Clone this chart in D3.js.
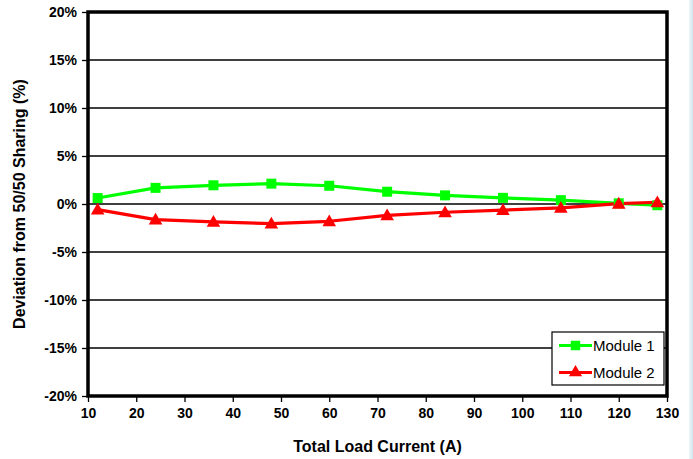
<!DOCTYPE html>
<html>
<head>
<script src="https://cdn.jsdelivr.net/npm/d3@7"></script>
<style>
body { margin: 0; background: #fff; }
text { font-family: "Liberation Sans", Arial, sans-serif; }
</style>
</head>
<body>
<div id="chart"></div>
<script>
// data
var loadCurrent = [12, 24, 36, 48, 60, 72, 84, 96, 108, 120, 128];
var module1 = [0.62, 1.68, 1.95, 2.12, 1.9, 1.28, 0.9, 0.64, 0.4, 0.07, -0.13];
var module2 = [-0.58, -1.62, -1.86, -2.04, -1.8, -1.18, -0.86, -0.64, -0.4, 0.03, 0.18];
var xTicks = [10, 20, 30, 40, 50, 60, 70, 80, 90, 100, 110, 120, 130];
var yTicks = [-20, -15, -10, -5, 0, 5, 10, 15, 20];
var seriesNames = ["Module 1", "Module 2"];

var W = 693, H = 459;
var margin = {top: 12, right: 26, bottom: 63, left: 88};
var width = W - margin.left - margin.right,
    height = H - margin.top - margin.bottom;

var svg = d3.select("#chart").append("svg")
  .attr("width", W).attr("height", H);

// faint strip at the right edge of the slide
var grad = svg.append("defs").append("linearGradient").attr("id", "edge");
grad.append("stop").attr("offset", "0%").attr("stop-color", "#eef7fa");
grad.append("stop").attr("offset", "100%").attr("stop-color", "#cfe6ee");
svg.append("rect").attr("x", 689).attr("y", 0).attr("width", 4).attr("height", H)
  .attr("fill", "url(#edge)");

var g = svg.append("g").attr("transform", "translate(" + margin.left + "," + margin.top + ")");

var x = d3.scaleLinear().domain([10, 130]).range([0, width]);
var y = d3.scaleLinear().domain([-20, 20]).range([height, 0]);

// gridlines
g.selectAll("line.grid").data(yTicks).enter().append("line")
  .attr("class", "grid")
  .attr("x1", 0).attr("x2", width)
  .attr("y1", function(d) { return y(d); }).attr("y2", function(d) { return y(d); })
  .attr("stroke", "#000").attr("stroke-width", 1.3);

// axes
var yAxis = g.append("g")
  .call(d3.axisLeft(y).tickValues(yTicks).tickSize(6).tickFormat(function(d) { return d + "%"; }));
var xAxis = g.append("g").attr("transform", "translate(0," + height + ")")
  .call(d3.axisBottom(x).tickValues(xTicks).tickSize(6).tickFormat(d3.format("d")));
[yAxis, xAxis].forEach(function(a) {
  a.select(".domain").remove();
  a.selectAll(".tick line").attr("stroke", "#000").attr("stroke-width", 1.3);
  a.selectAll("text").attr("fill", "#000").style("font-size", "14px").style("font-weight", "bold");
});
yAxis.selectAll("text").attr("x", -11).attr("dy", "0.35em");
xAxis.selectAll("text").attr("y", 12).attr("dy", "0.71em");

// frame
g.append("rect").attr("x", 0).attr("y", 0).attr("width", width).attr("height", height)
  .attr("fill", "none").attr("stroke", "#000").attr("stroke-width", 3.5);

var colors = ["#00ff00", "#ff0000"];
var allSeries = [module1, module2];
var line = d3.line()
  .x(function(d, i) { return x(loadCurrent[i]); })
  .y(function(d) { return y(d); });

allSeries.forEach(function(s, k) {
  g.append("path").datum(s)
    .attr("fill", "none").attr("stroke", colors[k]).attr("stroke-width", 3.2)
    .attr("stroke-linejoin", "round")
    .attr("d", line);
});

function marker(sel, k, size) {
  var sym = k === 0 ? d3.symbolSquare : d3.symbolTriangle;
  return sel.append("path")
    .attr("d", d3.symbol().type(sym).size(size))
    .attr("fill", colors[k]);
}

allSeries.forEach(function(s, k) {
  s.forEach(function(v, i) {
    marker(g, k, k === 0 ? 100 : 80)
      .attr("transform", "translate(" + x(loadCurrent[i]) + "," + (y(v) + (k === 1 ? 1 : 0)) + ")");
  });
});

// legend
var lg = svg.append("g").attr("transform", "translate(552,332)");
lg.append("rect").attr("width", 112).attr("height", 53)
  .attr("fill", "#fff").attr("stroke", "#000").attr("stroke-width", 1.2);
seriesNames.forEach(function(name, k) {
  var ly = 13.5 + k * 27;
  lg.append("line").attr("x1", 7).attr("x2", 40).attr("y1", ly).attr("y2", ly)
    .attr("stroke", colors[k]).attr("stroke-width", 3.2);
  marker(lg, k, k === 0 ? 90 : 75).attr("transform", "translate(23.5," + ly + ")");
  lg.append("text").attr("x", 41).attr("y", ly).attr("dy", "0.35em")
    .style("font-size", "15px").text(name);
});

// axis titles
svg.append("text")
  .attr("x", margin.left + width / 2).attr("y", 452)
  .attr("text-anchor", "middle")
  .style("font-size", "16px").style("font-weight", "bold")
  .text("Total Load Current (A)");
svg.append("text")
  .attr("transform", "translate(25," + (margin.top + height / 2) + ") rotate(-90)")
  .attr("text-anchor", "middle")
  .style("font-size", "16px").style("font-weight", "bold")
  .text("Deviation from 50/50 Sharing (%)");
</script>
</body>
</html>
